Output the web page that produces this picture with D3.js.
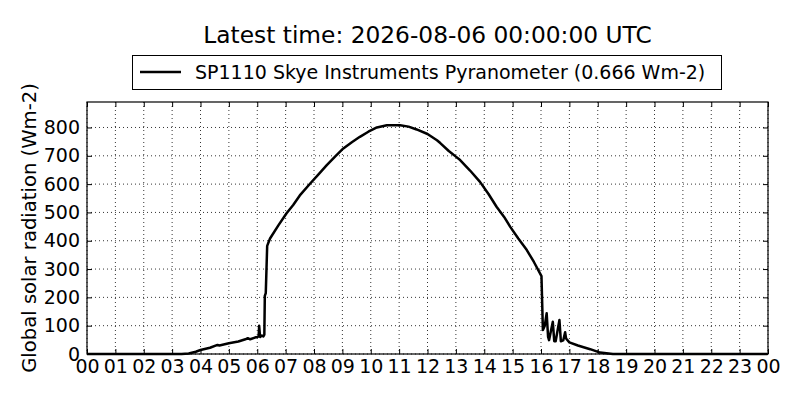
<!DOCTYPE html>
<html>
<head>
<meta charset="utf-8">
<script src="https://cdn.jsdelivr.net/npm/d3@7"></script>
<style>
body { margin: 0; background: #fff; }
text { font-family: "DejaVu Sans", sans-serif; fill: #000; }
</style>
</head>
<body>
<div id="chart"></div>
<script>
var width = 800,
    height = 400;

var margin = {top: 102, right: 32, bottom: 46, left: 87};

// readings (UTC, 2026-08-05) and global solar radiation in Wm-2
var times = ["00:00", "03:00", "03:20", "03:35", "03:50", "04:00", "04:20", "04:36", "04:40", "05:00",
    "05:20", "05:35", "05:40", "05:45", "05:55", "06:00", "06:03", "06:04", "06:06", "06:10",
    "06:13", "06:15", "06:16", "06:18", "06:21", "06:27", "06:45", "07:02", "07:16", "07:30",
    "07:52", "08:10", "08:27", "08:45", "09:02", "09:20", "09:37", "09:55", "10:13", "10:34",
    "11:02", "11:20", "11:37", "12:00", "12:20", "12:27", "12:45", "13:00", "13:09", "13:30",
    "13:51", "14:09", "14:26", "14:42", "14:55", "15:12", "15:30", "15:45", "16:01", "16:04",
    "16:08", "16:12", "16:15", "16:17", "16:25", "16:28", "16:31", "16:39", "16:42", "16:47",
    "16:51", "16:53", "17:00", "17:18", "17:44", "18:05", "18:32", "19:00", "23:59"];
var radiation = [0, 0, 0, 2, 8, 14, 22, 32, 30, 38,
    44, 52, 56, 52, 58, 60, 62, 100, 60, 65,
    62, 68, 205, 215, 382, 408, 455, 497, 526, 560,
    602, 635, 667, 698, 726, 748, 767, 785, 800, 808,
    808, 803, 793, 777, 755, 745, 717, 697, 685, 648,
    608, 565, 520, 484, 449, 408, 367, 325, 275, 85,
    100, 144, 60, 49, 114, 45, 45, 120, 45, 48,
    77, 55, 41, 30, 17, 5, 0, 0, 0];
var hourTicks = d3.range(0, 25);
var yTicks = [0, 100, 200, 300, 400, 500, 600, 700, 800];

var title = "Latest time: 2026-08-06 00:00:00 UTC";
var seriesName = "SP1110 Skye Instruments Pyranometer (0.666 Wm-2)";
var yLabel = "Global solar radiation (Wm-2)";

var parseTime = d3.utcParse("%Y-%m-%d %H:%M");
var day0 = parseTime("2026-08-05 00:00");
var data = times.map(function (t, i) {
    return {time: parseTime("2026-08-05 " + t), value: radiation[i]};
});

var svg = d3.select("#chart").append("svg")
    .attr("width", width)
    .attr("height", height);

var x = d3.scaleUtc()
    .domain([day0, d3.utcHour.offset(day0, 24)])
    .range([margin.left, width - margin.right]);

var y = d3.scaleLinear()
    .domain([0, 890])
    .range([height - margin.bottom, margin.top]);

var tickDates = hourTicks.map(function (h) { return d3.utcHour.offset(day0, h); });

// dotted grid
svg.append("g").selectAll("line.vx")
    .data(tickDates)
    .enter().append("line")
    .attr("x1", function (d) { return x(d); })
    .attr("x2", function (d) { return x(d); })
    .attr("y1", y(890))
    .attr("y2", y(0))
    .style("stroke", "#000")
    .style("stroke-width", 0.8)
    .style("stroke-dasharray", "1,3");

svg.append("g").selectAll("line.hy")
    .data(yTicks)
    .enter().append("line")
    .attr("x1", x.range()[0])
    .attr("x2", x.range()[1])
    .attr("y1", function (d) { return y(d); })
    .attr("y2", function (d) { return y(d); })
    .style("stroke", "#000")
    .style("stroke-width", 0.8)
    .style("stroke-dasharray", "1,3");

// axes, ticks pointing inwards on all four sides
var fmt = d3.utcFormat("%H");

function styleAxis(g) {
    g.select(".domain").remove();
    g.selectAll(".tick line").style("stroke", "#000");
    g.selectAll("text")
        .style("font-family", "DejaVu Sans")
        .style("font-size", "19px");
}

svg.append("g")
    .attr("transform", "translate(0," + y(0) + ")")
    .call(d3.axisBottom(x).tickValues(tickDates).tickFormat(fmt).tickSizeInner(-5).tickPadding(6))
    .call(styleAxis);

svg.append("g")
    .attr("transform", "translate(0," + y(890) + ")")
    .call(d3.axisTop(x).tickValues(tickDates).tickFormat("").tickSizeInner(-5))
    .call(styleAxis);

svg.append("g")
    .attr("transform", "translate(" + x.range()[0] + ",0)")
    .call(d3.axisLeft(y).tickValues(yTicks).tickSizeInner(-5).tickPadding(7))
    .call(styleAxis);

svg.append("g")
    .attr("transform", "translate(" + x.range()[1] + ",0)")
    .call(d3.axisRight(y).tickValues(yTicks).tickFormat("").tickSizeInner(-5))
    .call(styleAxis);

// data line
var line = d3.line()
    .x(function (d) { return x(d.time); })
    .y(function (d) { return y(d.value); });

svg.append("path")
    .datum(data)
    .attr("d", line)
    .style("fill", "none")
    .style("stroke", "#000")
    .style("stroke-width", 2.5)
    .style("stroke-linejoin", "round");

// frame
svg.append("rect")
    .attr("x", x.range()[0])
    .attr("y", y(890))
    .attr("width", x.range()[1] - x.range()[0])
    .attr("height", y(0) - y(890))
    .style("fill", "none")
    .style("stroke", "#000")
    .style("stroke-width", 1.2);

// title
svg.append("text")
    .attr("x", (x.range()[0] + x.range()[1]) / 2)
    .attr("y", 43)
    .attr("text-anchor", "middle")
    .attr("font-size", "23.3px")
    .text(title);

// legend
var legend = svg.append("g");
legend.append("rect")
    .attr("x", 132.5)
    .attr("y", 55.5)
    .attr("width", 589)
    .attr("height", 34)
    .style("fill", "#fff")
    .style("stroke", "#000")
    .style("stroke-width", 1);
legend.append("line")
    .attr("x1", 140)
    .attr("x2", 181)
    .attr("y1", 72)
    .attr("y2", 72)
    .style("stroke", "#000")
    .style("stroke-width", 2.5);
legend.append("text")
    .attr("x", 195)
    .attr("y", 72)
    .attr("dy", ".35em")
    .attr("font-size", "19px")
    .text(seriesName);

// y label
svg.append("text")
    .attr("transform", "translate(36," + (y(0) + y(890)) / 2 + ") rotate(-90)")
    .attr("text-anchor", "middle")
    .attr("font-size", "19.6px")
    .text(yLabel);
</script>
</body>
</html>
